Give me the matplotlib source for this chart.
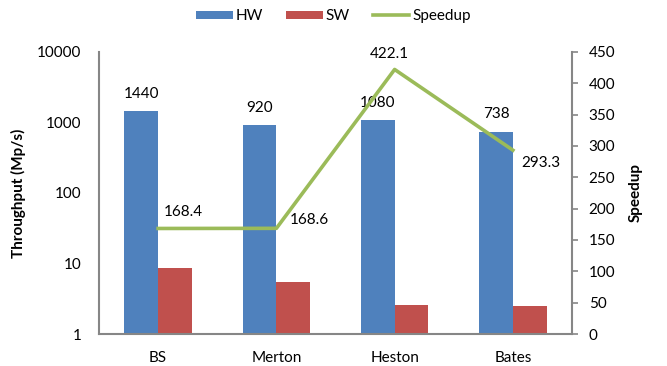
import matplotlib.pyplot as plt
import numpy as np

categories = ["BS", "Merton", "Heston", "Bates"]
hw = [1440, 920, 1080, 738]
sw = [8.55, 5.46, 2.56, 2.52]
speedup = [168.4, 168.6, 422.1, 293.3]

plt.rcParams['font.family'] = ['Lato', 'DejaVu Sans']
blue = '#4F81BD'
red = '#C0504D'
green = '#9BBB59'
grey = '#868686'
fs = 11

fig = plt.figure(figsize=(6.67, 3.66), dpi=100)
ax = fig.add_axes([0.1484, 0.0874, 0.7092, 0.7706])
x = np.arange(len(categories))
w = 0.285
b1 = ax.bar(x - w / 2, hw, w, color=blue, label='HW')
b2 = ax.bar(x + w / 2, sw, w, color=red, label='SW')
ax.set_yscale('log')
ax.set_ylim(1, 10000)
ax.set_xlim(-0.5, 3.5)
ax.set_xticks(x)
ax.set_xticklabels(categories, fontsize=fs)
ax.set_yticks([1, 10, 100, 1000, 10000])
ax.set_yticklabels(['1', '10', '100', '1000', '10000'], fontsize=fs)
ax.minorticks_off()
ax.tick_params(axis='x', length=0, pad=12)
ax.tick_params(axis='y', length=0, pad=12.5)
ax.set_ylabel('Throughput (Mp/s)', fontsize=fs, fontweight='bold')
ax.yaxis.set_label_coords(-0.155, 0.5)
for s in ['top', 'right']:
    ax.spines[s].set_visible(False)
for s in ['left', 'bottom']:
    ax.spines[s].set_color(grey)
    ax.spines[s].set_linewidth(1.5)

for xi, v in zip(x, hw):
    ax.annotate(str(v), (xi - w / 2, v), xytext=(0, 12.5), textcoords='offset points',
                ha='center', va='center', fontsize=fs)

ax2 = ax.twinx()
ln, = ax2.plot(x, speedup, color=green, lw=2.6, label='Speedup')
ax2.set_ylim(0, 450)
ax2.set_yticks(range(0, 451, 50))
ax2.tick_params(axis='y', labelsize=fs, length=4, width=1.2, color=grey, pad=8)
ax2.set_ylabel('Speedup', fontsize=fs, fontweight='bold')
ax2.yaxis.set_label_coords(1.12, 0.5)
for s in ['top', 'left', 'bottom']:
    ax2.spines[s].set_visible(False)
ax2.spines['right'].set_color(grey)
ax2.spines['right'].set_linewidth(1.5)

offsets = [(4, 12), (10, 6), (-4, 11), (6, -9)]
aligns = ['left', 'left', 'center', 'left']
for xi, v, off, al in zip(x, speedup, offsets, aligns):
    ax2.annotate(f"{v:.1f}", (xi, v), xytext=off, textcoords='offset points',
                 ha=al, va='center', fontsize=fs)

fig.legend([b1, b2, ln], ['HW', 'SW', 'Speedup'], loc='upper center',
           bbox_to_anchor=(0.5, 1.012), ncol=3, frameon=False, fontsize=fs,
           handlelength=2.4, columnspacing=1.5, handletextpad=0.2,
           handleheight=0.5)

fig.savefig('out.png', dpi=100)
